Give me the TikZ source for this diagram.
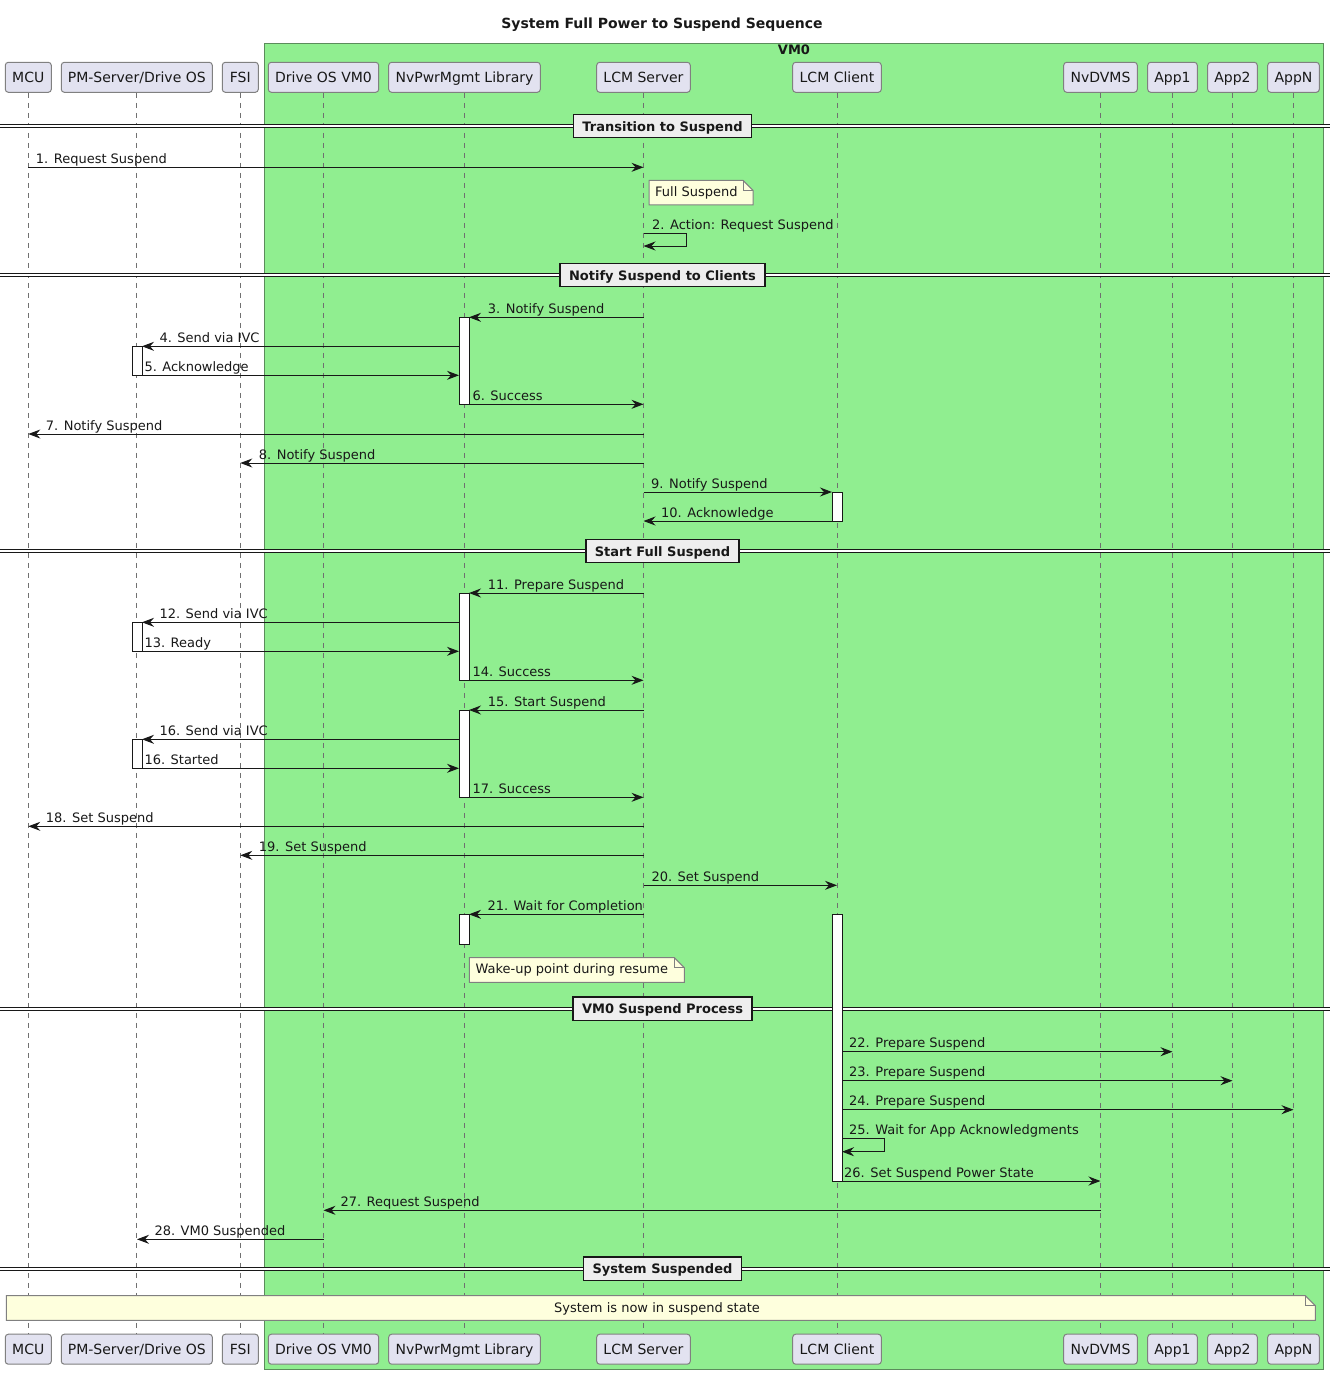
\documentclass[tikz,border=0pt]{standalone}
\usepackage{fontspec}
\setmainfont{DejaVu Sans}
\usetikzlibrary{arrows.meta}
\definecolor{partfill}{HTML}{E2E2F0}
\definecolor{partborder}{HTML}{808080}
\definecolor{lifecol}{HTML}{707070}
\definecolor{vmgreen}{HTML}{90EE90}
\definecolor{vmborder}{HTML}{5B8C5B}
\definecolor{notefill}{HTML}{FEFFDD}
\definecolor{noteborder}{HTML}{808080}
\definecolor{divfill}{HTML}{EEEEEE}
\definecolor{ink}{HTML}{181818}
\tikzset{
 partbox/.style={draw=partborder, fill=partfill, rounded corners=3pt, line width=1pt, minimum height=30pt, inner sep=0pt, text height=12pt, text depth=2pt, text=ink, font=\fontsize{14}{16}\selectfont},
 lifeline/.style={draw=lifecol, line width=1pt, dash pattern=on 5pt off 5pt},
 msgline/.style={draw=ink, line width=1pt, -{Stealth[length=12pt,width=9pt,inset=4pt]}},
 msglabel/.style={anchor=base west, inner sep=0pt, font=\fontsize{13}{15}\selectfont, text=ink},
 actbox/.style={draw=ink, fill=white, line width=1pt, minimum width=10pt, inner sep=0pt, anchor=north},
 divbox/.style={draw=ink, fill=divfill, line width=1.5pt, minimum height=23.4pt, inner xsep=9pt, inner ysep=0pt, text height=12pt, text depth=2pt, text=ink, font=\bfseries\fontsize{13}{15}\selectfont},
 notebox/.style={draw=noteborder, fill=notefill, line width=1pt},
 notetext/.style={anchor=base west, inner sep=0pt, text=ink, font=\fontsize{13}{15}\selectfont},
}
% participant: name, x, width, text
\newcommand\seqpart[4]{%
  \node[partbox, minimum width=#3] (#1) at (#2,77.3) {#4};
  \node[partbox, minimum width=#3] (#1B) at (#2,1349.2) {#4};
  \draw[lifeline] (#1.south) -- (#1B.north);}
% message: name, y, from x, to x, label x, text
\newcommand\seqmsg[6]{%
  \coordinate (#1a) at (#3,#2);
  \coordinate (#1b) at (#4,#2);
  \draw[msgline] (#1a) -- (#1b);
  \node[msglabel] (#1t) at (#5,#2-4) {#6};}
% self message: name, y, x, label x, text
\newcommand\seqself[5]{%
  \coordinate (#1a) at (#3,#2);
  \coordinate (#1b) at (#3,#2+13);
  \draw[msgline] (#1a) -- ++(42.5,0) |- (#1b);
  \node[msglabel] (#1t) at (#4,#2-4) {#5};}
% divider: name, y, text
\newcommand\seqdiv[3]{%
  \fill[white] (0,#2-1.4) rectangle (1330,#2+1.4);
  \draw[ink, line width=1pt] (0,#2-1.4) -- (1330,#2-1.4) (0,#2+1.4) -- (1330,#2+1.4);
  \node[divbox] (#1) at (662.5,#2) {#3};}
% note shape: x1, y1, x2, y2
\newcommand\seqnote[4]{%
  \draw[notebox] (#1,#2) -- (#3-10,#2) -- (#3,#2+10) -- (#3,#4) -- (#1,#4) -- cycle;
  \draw[notebox, fill=none] (#3-10,#2) -- (#3-10,#2+10) -- (#3,#2+10);}
\def\xMCU{28.3}\def\xPM{137}\def\xFSI{240.3}\def\xDOS{323.5}\def\xNPM{464}
\def\xLS{643.5}\def\xLC{837}\def\xDV{1100.5}\def\xAa{1172.5}\def\xAb{1232.5}\def\xAN{1293.5}
\begin{document}
\begin{tikzpicture}[x=1pt,y=-1pt]
\useasboundingbox (0,0) rectangle (1330,1374);
\fill[white] (0,0) rectangle (1330,1374);
% title
\node[anchor=base, inner sep=0pt, text=ink, font=\bfseries\fontsize{14}{16}\selectfont] (title) at (662,28.3) {System Full Power to Suspend Sequence};
% VM0 box
\path[draw=vmborder, fill=vmgreen, line width=1pt] (264.3,43.3) rectangle (1323.3,1369);
\node[anchor=base, inner sep=0pt, text=ink, font=\bfseries\fontsize{13}{15}\selectfont] (vmlabel) at (794,54.3) {VM0};
% participants
\seqpart{mcu}{\xMCU}{46}{MCU}
\seqpart{pm}{136.8}{151}{PM-Server/Drive OS}
\seqpart{fsi}{\xFSI}{36}{FSI}
\seqpart{dos}{\xDOS}{110.4}{Drive OS VM0}
\seqpart{npm}{464.5}{151.6}{NvPwrMgmt Library}
\seqpart{lcms}{\xLS}{93.6}{LCM Server}
\seqpart{lcmc}{\xLC}{88.6}{LCM Client}
\seqpart{dvms}{\xDV}{73.6}{NvDVMS}
\seqpart{appa}{\xAa}{49.6}{App1}
\seqpart{appb}{\xAb}{49.6}{App2}
\seqpart{appn}{\xAN}{51.6}{AppN}
% dividers
\seqdiv{d1}{126}{Transition to Suspend}
\seqdiv{d2}{275}{Notify Suspend to Clients}
\seqdiv{d3}{551}{Start Full Suspend}
\seqdiv{d4}{1008.7}{VM0 Suspend Process}
\seqdiv{d5}{1268.7}{System Suspended}
% activations
\node[actbox, minimum height=87pt] (act1) at (\xNPM,317.3) {};
\node[actbox, minimum height=29pt] (act2) at (\xPM,346.3) {};
\node[actbox, minimum height=29pt] (act3) at (\xLC,492) {};
\node[actbox, minimum height=87.3pt] (act4) at (\xNPM,593) {};
\node[actbox, minimum height=29pt] (act5) at (\xPM,622.3) {};
\node[actbox, minimum height=87.3pt] (act6) at (\xNPM,710) {};
\node[actbox, minimum height=29pt] (act7) at (\xPM,739.3) {};
\node[actbox, minimum height=30pt] (act8) at (\xNPM,914.3) {};
\node[actbox, minimum height=266.7pt] (act9) at (\xLC,914.3) {};
% notes
\seqnote{649}{180.3}{753}{204.9}
\node[notetext] (n1) at (655,196) {Full Suspend};
\seqnote{469.3}{957.7}{684.3}{982.3}
\node[notetext] (n2) at (475.3,973.3) {Wake-up point during resume};
\seqnote{6.3}{1295.7}{1315.3}{1320.3}
\node[notetext, anchor=base] (n3) at (657,1312.3) {System is now in suspend state};
% messages
\seqmsg{m1}{167.3}{\xMCU}{\xLS}{35.7}{1. Request Suspend}
\seqself{m2}{233}{\xLS}{652}{2. Action: Request Suspend}
\seqmsg{m3}{317.3}{\xLS}{469}{487.7}{3. Notify Suspend}
\seqmsg{m4}{346.3}{459}{142}{159.3}{4. Send via IVC}
\seqmsg{m5}{375.3}{142}{459}{144.3}{5. Acknowledge}
\seqmsg{m6}{404.3}{469}{\xLS}{472.3}{6. Success}
\seqmsg{m7}{434}{\xLS}{\xMCU}{45.7}{7. Notify Suspend}
\seqmsg{m8}{463}{\xLS}{\xFSI}{258.7}{8. Notify Suspend}
\seqmsg{m9}{492}{\xLS}{832}{651}{9. Notify Suspend}
\seqmsg{m10}{521}{832}{\xLS}{661}{10. Acknowledge}
\seqmsg{m11}{593}{\xLS}{469}{487.7}{11. Prepare Suspend}
\seqmsg{m12}{622.3}{459}{142}{159.3}{12. Send via IVC}
\seqmsg{m13}{651.3}{142}{459}{144.3}{13. Ready}
\seqmsg{m14}{680.3}{469}{\xLS}{472.3}{14. Success}
\seqmsg{m15}{710}{\xLS}{469}{487.7}{15. Start Suspend}
\seqmsg{m16}{739.3}{459}{142}{159.3}{16. Send via IVC}
\seqmsg{m16b}{768.3}{142}{459}{144.3}{16. Started}
\seqmsg{m17}{797.3}{469}{\xLS}{472.3}{17. Success}
\seqmsg{m18}{826.3}{\xLS}{\xMCU}{45.7}{18. Set Suspend}
\seqmsg{m19}{855.3}{\xLS}{\xFSI}{258.7}{19. Set Suspend}
\seqmsg{m20}{885.3}{\xLS}{\xLC}{651.3}{20. Set Suspend}
\seqmsg{m21}{914.3}{\xLS}{469}{487.3}{21. Wait for Completion}
\seqmsg{m22}{1051.7}{842}{\xAa}{849}{22. Prepare Suspend}
\seqmsg{m23}{1080.7}{842}{\xAb}{849}{23. Prepare Suspend}
\seqmsg{m24}{1109.7}{842}{\xAN}{849}{24. Prepare Suspend}
\seqself{m25}{1138.7}{842}{849}{25. Wait for App Acknowledgments}
\seqmsg{m26}{1181}{842}{\xDV}{844}{26. Set Suspend Power State}
\seqmsg{m27}{1210.3}{\xDV}{\xDOS}{340.3}{27. Request Suspend}
\seqmsg{m28}{1239.3}{\xDOS}{\xPM}{154.3}{28. VM0 Suspended}
\end{tikzpicture}
\end{document}
